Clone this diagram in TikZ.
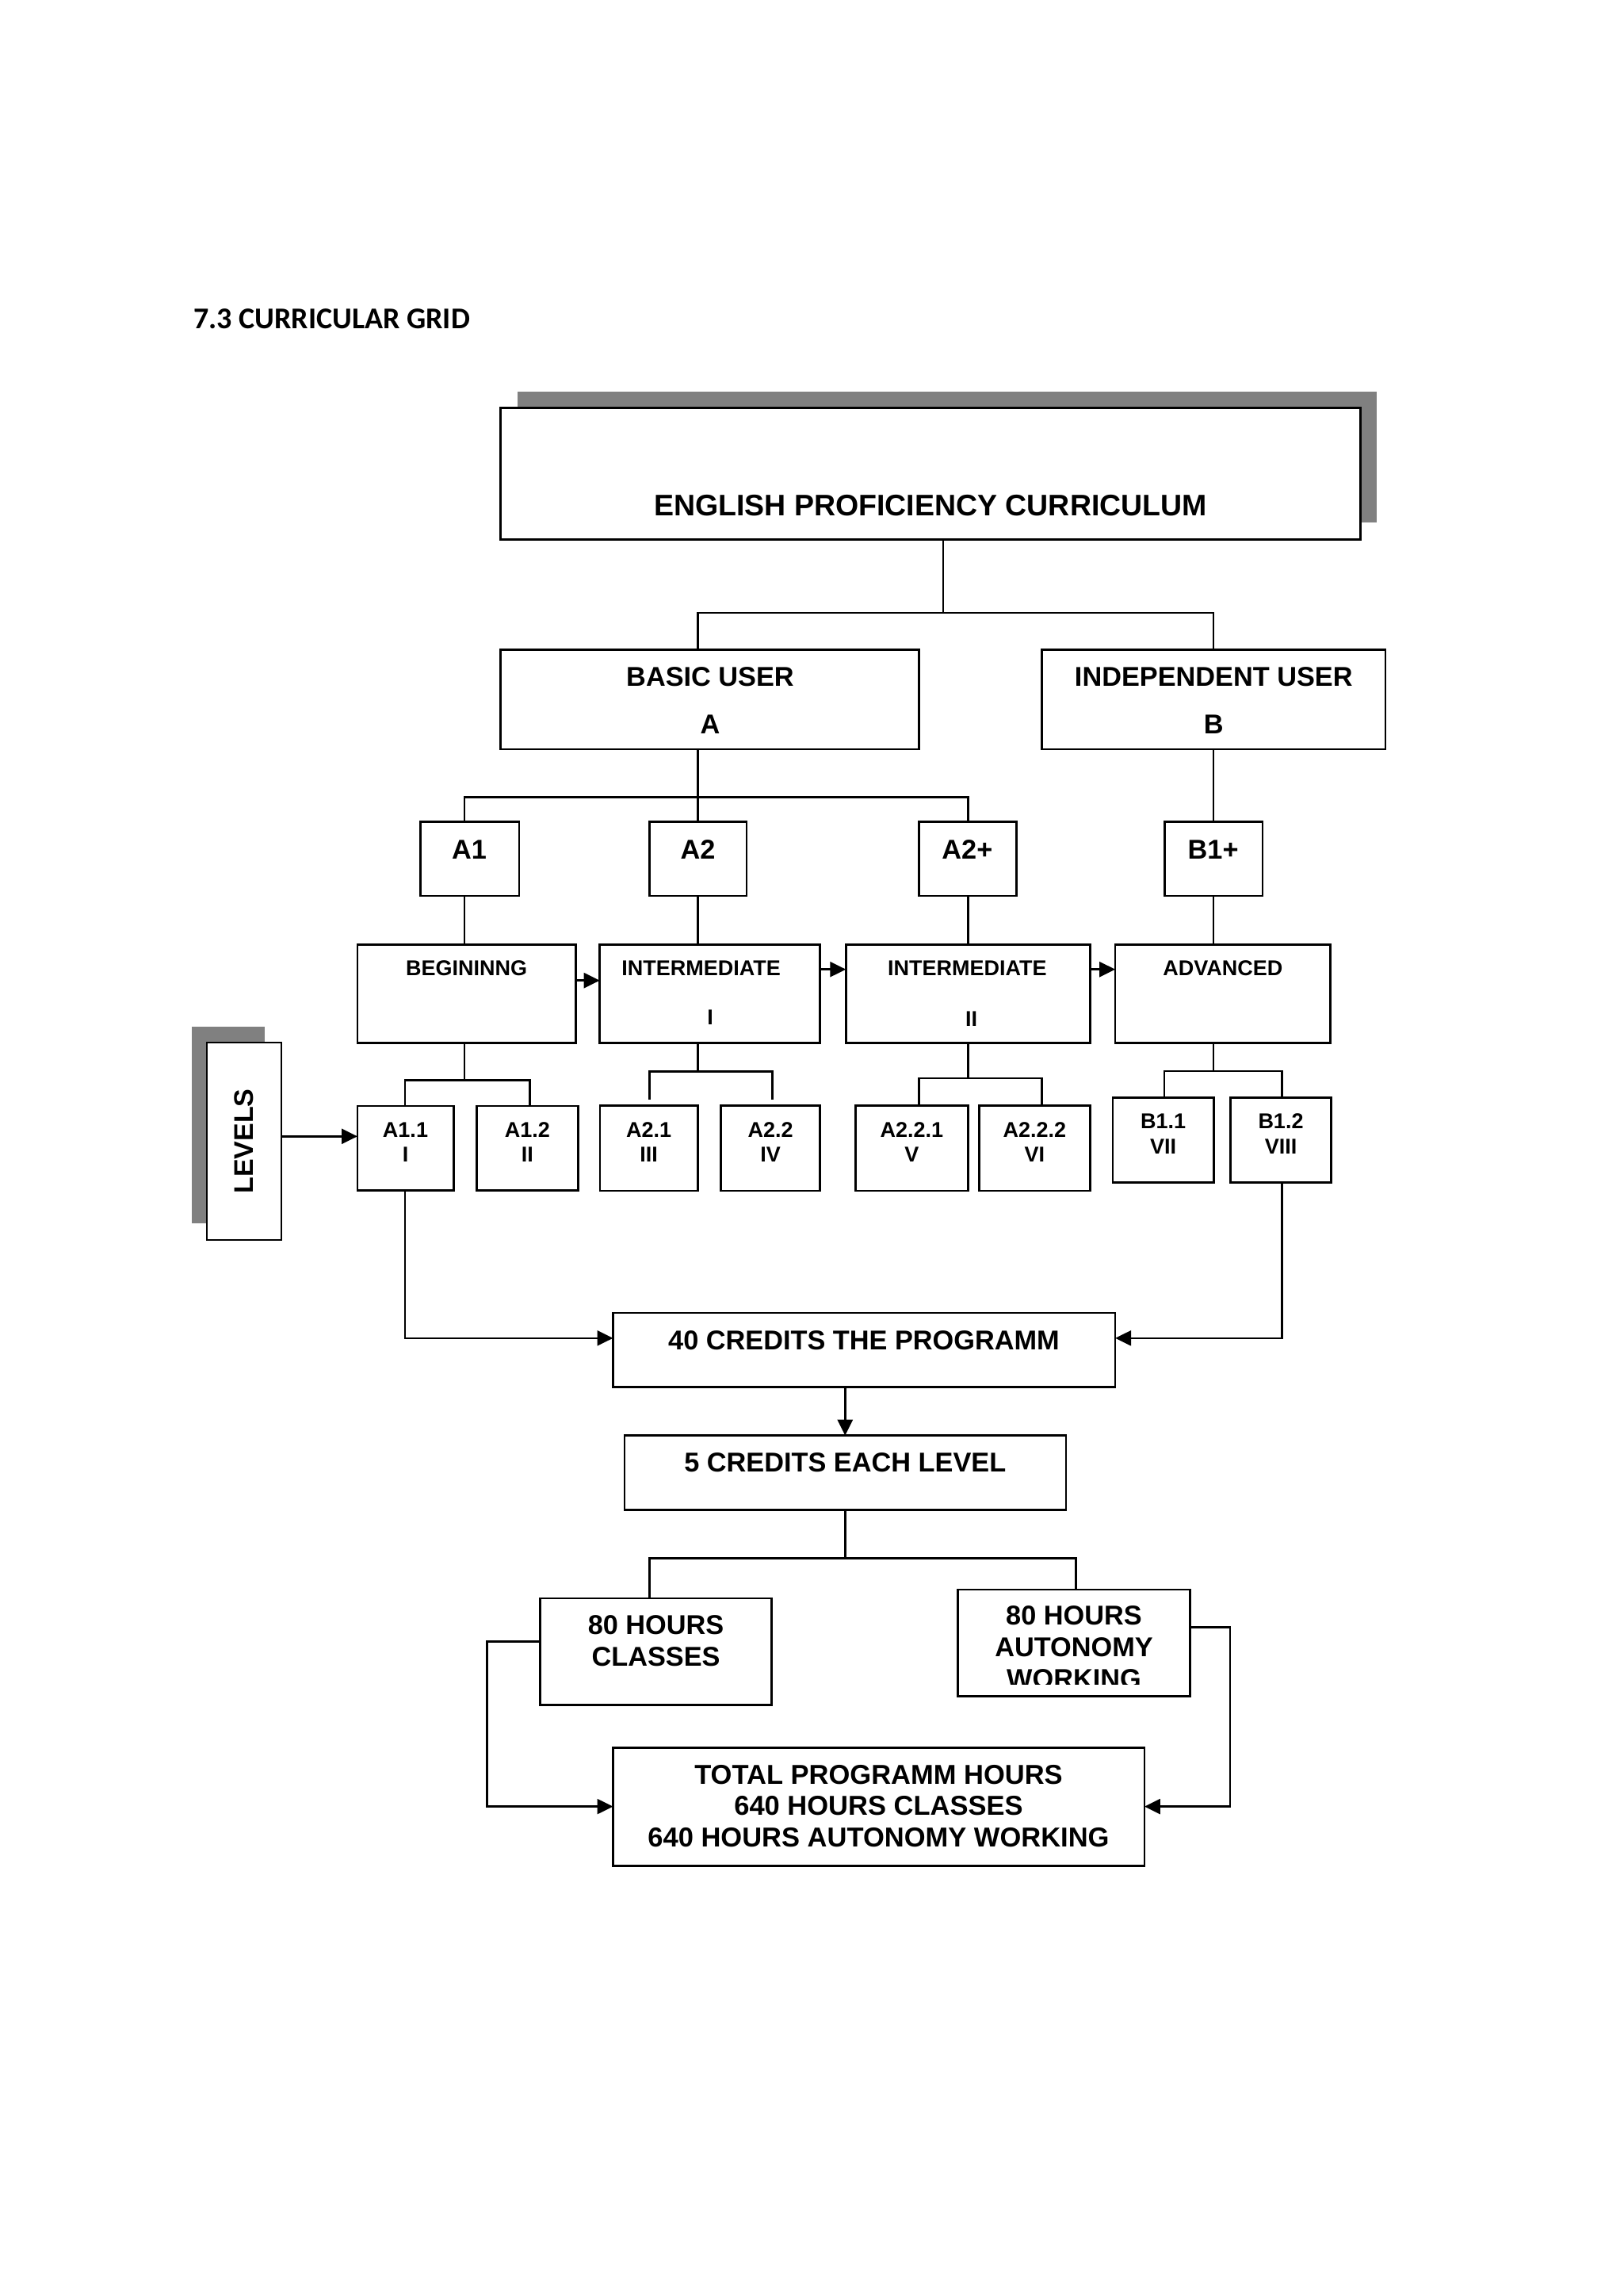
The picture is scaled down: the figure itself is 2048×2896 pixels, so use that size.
\documentclass[tikz,border=0pt]{standalone}
\usepackage{fontspec}
\setmainfont{Liberation Sans}
\newfontfamily\titlefont{Carlito}
\usetikzlibrary{arrows.meta}
\definecolor{shade}{HTML}{808080}
\tikzset{
  box/.style={draw=black, line width=2.6pt, fill=white, inner sep=0pt, outer sep=0pt},
  shadowbox/.style={fill=shade, draw=none, inner sep=0pt, outer sep=0pt},
  txt/.style={anchor=base, inner sep=0pt, outer sep=0pt, text=black},
  conn/.style={line width=2.6pt, line cap=rect},
  arr/.style={line width=2.6pt, -{Triangle[length=20pt,width=19pt]}},
}
\newcommand\bx[6][box]{\node[#1, anchor=north west, minimum width={(#5)-(#3)}, minimum height={(#6)-(#4)}] (#2) at (#3,#4) {};}
\newcommand\tx[5]{\node[txt, font=\fontsize{#4pt}{#4pt}\selectfont\bfseries] (#1) at (#2,#3) {#5};}
\begin{document}
\begin{tikzpicture}[x=1pt,y=-1pt]
\fill[white] (0,0) rectangle (2048,2896);
\useasboundingbox (0,0) rectangle (2048,2896);

% title
\node[anchor=base west, inner sep=0pt, font=\titlefont\bfseries\fontsize{38pt}{38pt}\selectfont] (title) at (244,414.3) {7.3 CURRICULAR GRID};

% shadows
\bx[shadowbox]{mainS}{653.3}{493.9}{1737.3}{658.9}
\bx[shadowbox]{levS}{241.7}{1295}{334}{1542.7}

% boxes
\bx{main}{631.5}{514.6}{1716.7}{680.4}
\bx{basic}{631.5}{819.7}{1159.5}{945}
\bx{indep}{1314.5}{819.7}{1748.1}{945}
\bx{a1}{530.7}{1036.7}{655}{1130}
\bx{a2}{819.4}{1036.7}{941.8}{1130}
\bx{a2p}{1159.2}{1036.7}{1282.7}{1130}
\bx{b1p}{1469.4}{1036.7}{1592.9}{1130}
\bx{beg}{451}{1191.5}{726.5}{1315.7}
\bx{int1}{756.7}{1191.5}{1034.7}{1315.7}
\bx{int2}{1067.3}{1191.5}{1375.5}{1315.7}
\bx{adv}{1407.1}{1191.5}{1678.6}{1315.7}
\bx{a11}{451}{1395}{572.7}{1501.7}
\bx{a12}{601.7}{1395}{729.3}{1501.7}
\bx{a21}{757.1}{1394.2}{880.6}{1502.1}
\bx{a22}{909.2}{1394.2}{1034.7}{1502.1}
\bx{a221}{1079.6}{1394.2}{1221.4}{1502.1}
\bx{a222}{1235.7}{1394.2}{1375.5}{1502.1}
\bx{b11}{1404}{1384.3}{1531.3}{1491.7}
\bx{b12}{1552.3}{1384.3}{1679.3}{1491.7}
\bx{lev}{261}{1315}{355}{1564}
\bx{cred40}{773.5}{1656.1}{1407.1}{1749.5}
\bx{cred5}{787.8}{1810.7}{1344.9}{1904.6}
\bx{cls}{681.6}{2015.8}{973.5}{2150.5}
\bx{aut}{1208.3}{2005}{1501.7}{2139.3}
\bx{tot}{773.5}{2204.6}{1443.9}{2353.6}

% texts
\tx{mainT}{1174}{650.6}{37.5}{ENGLISH PROFICIENCY CURRICULUM}
\tx{basicT}{896}{865.8}{34.3}{BASIC USER}
\tx{basicA}{896}{925.9}{34.3}{A}
\tx{indepT}{1531.3}{865.8}{34.3}{INDEPENDENT USER}
\tx{indepB}{1531.3}{925.9}{34.3}{B}
\tx{a1T}{592}{1083.3}{34.3}{A1}
\tx{a2T}{880.6}{1083.3}{34.3}{A2}
\tx{a2pT}{1220.4}{1083.3}{34.3}{A2+}
\tx{b1pT}{1530.6}{1083.3}{34.3}{B1+}
\tx{begT}{588.7}{1230.7}{27}{BEGININNG}
\tx{int1T}{884.7}{1230.7}{27}{INTERMEDIATE}
\tx{int1R}{896}{1292.8}{27}{I}
\tx{int2T}{1220.4}{1230.7}{27}{INTERMEDIATE}
\tx{int2R}{1225.5}{1294}{27}{II}
\tx{advT}{1542.9}{1230.7}{27}{ADVANCED}
\tx{a11T}{511.5}{1434}{27}{A1.1}
\tx{a11R}{511.5}{1465.7}{27}{I}
\tx{a12T}{665.4}{1434}{27}{A1.2}
\tx{a12R}{665.4}{1465.7}{27}{II}
\tx{a21T}{818.6}{1434.4}{27}{A2.1}
\tx{a21R}{818.6}{1465}{27}{III}
\tx{a22T}{972.2}{1434.4}{27}{A2.2}
\tx{a22R}{972.2}{1465}{27}{IV}
\tx{a221T}{1150.3}{1434.4}{27}{A2.2.1}
\tx{a221R}{1150.3}{1465}{27}{V}
\tx{a222T}{1305.4}{1434.4}{27}{A2.2.2}
\tx{a222R}{1305.4}{1465}{27}{VI}
\tx{b11T}{1467.7}{1423.3}{27}{B1.1}
\tx{b11R}{1467.7}{1455}{27}{VII}
\tx{b12T}{1616}{1423.3}{27}{B1.2}
\tx{b12R}{1616}{1455}{27}{VIII}
\node[inner sep=0pt, rotate=90, font=\fontsize{34pt}{34pt}\selectfont\bfseries] (levT) at (308,1439.5) {LEVELS};
\tx{cred40T}{1090}{1702}{34.3}{40 CREDITS THE PROGRAMM}
\tx{cred5T}{1066.3}{1856.6}{34.3}{5 CREDITS EACH LEVEL}
\tx{clsT1}{827.6}{2061.7}{34.3}{80 HOURS}
\tx{clsT2}{827.6}{2101.5}{34.3}{CLASSES}
\tx{autT1}{1355}{2049.3}{34.3}{80 HOURS}
\tx{autT2}{1355}{2089.3}{34.3}{AUTONOMY}
\begin{scope}
\clip (1210,2005) rectangle (1500,2124.7);
\tx{autT3}{1355}{2129.3}{34.3}{WORKING}
\end{scope}
\tx{totT1}{1108.5}{2250.5}{34.5}{TOTAL PROGRAMM HOURS}
\tx{totT2}{1108.5}{2289.8}{34.5}{640 HOURS CLASSES}
\tx{totT3}{1108.5}{2329.6}{34.5}{640 HOURS AUTONOMY WORKING}

% helper coordinates
\coordinate (xm) at (1189.8,0);
\coordinate (xb) at (880.7,0);
\coordinate (xi) at (1531,0);
\coordinate (xa1) at (586,0);
\coordinate (xa2p) at (1221.4,0);
\coordinate (bus0) at (1189.8,772.9);
\coordinate (bus1) at (880.7,1005.7);

% top tree
\draw[conn] (main.south -| xm) -- (bus0);
\draw[conn] (basic.north -| xb) |- (bus0) -| (indep.north -| xi);
\draw[conn] (basic.south -| xb) -- (a2.north -| xb);
\draw[conn] (a1.north -| xa1) |- (bus1) -| (a2p.north -| xa2p);
\draw[conn] (indep.south -| xi) -- (b1p.north -| xi);
\draw[conn] (a1.south -| xa1) -- (beg.north -| xa1);
\draw[conn] (a2.south -| xb) -- (int1.north -| xb);
\draw[conn] (a2p.south -| xa2p) -- (int2.north -| xa2p);
\draw[conn] (b1p.south -| xi) -- (adv.north -| xi);

% level arrows
\coordinate (ya1) at (0,1236.7);
\coordinate (ya2) at (0,1222.7);
\draw[arr] (beg.east |- ya1) -- (int1.west |- ya1);
\draw[arr] (int1.east |- ya2) -- (int2.west |- ya2);
\draw[arr] (int2.east |- ya2) -- (adv.west |- ya2);

% sublevel brackets
\coordinate (bb1) at (586,1362.3);
\coordinate (x11) at (511,0);
\coordinate (x12) at (668.3,0);
\draw[conn] (beg.south -| xa1) -- (bb1);
\draw[conn] (a11.north -| x11) |- (bb1) -| (a12.north -| x12);

\coordinate (bb2) at (880.7,1351.3);
\coordinate (g21) at (819.4,1385.8);
\coordinate (g22) at (974.5,1385.8);
\draw[conn] (int1.south -| xb) -- (bb2);
\draw[conn] (g21) |- (bb2) -| (g22);

\coordinate (bb3) at (1221.4,1360.1);
\coordinate (x221) at (1159.2,0);
\coordinate (x222) at (1314.3,0);
\draw[conn] (int2.south -| xa2p) -- (bb3);
\draw[conn] (a221.north -| x221) |- (bb3) -| (a222.north -| x222);

\coordinate (bb4) at (1531,1351);
\coordinate (xb11) at (1469,0);
\coordinate (xb12) at (1617.3,0);
\draw[conn] (adv.south -| xi) -- (bb4);
\draw[conn] (b11.north -| xb11) |- (bb4) -| (b12.north -| xb12);

% LEVELS arrow
\coordinate (ylev) at (0,1433.3);
\draw[arr] (lev.east |- ylev) -- (a11.west |- ylev);

% to 40 credits
\coordinate (y40) at (0,1687.8);
\draw[arr] (a11.south -| x11) |- (cred40.west |- y40);
\draw[arr] (b12.south -| xb12) |- (cred40.east |- y40);
\coordinate (x5) at (1066.3,0);
\draw[arr] (cred40.south -| x5) -- (cred5.north -| x5);

% hours
\coordinate (bus5) at (1066.3,1965.5);
\coordinate (xc) at (819.4,0);
\coordinate (xau) at (1357.2,0);
\draw[conn] (cred5.south -| x5) -- (bus5);
\draw[conn] (cls.north -| xc) |- (bus5) -| (aut.north -| xau);

% loops to total
\coordinate (yc) at (0,2070.4);
\coordinate (lc) at (614.3,2278.6);
\draw[arr] (cls.west |- yc) -| (lc) -- (tot.west |- lc);
\coordinate (yau) at (0,2052.7);
\coordinate (rc) at (1552,2278.6);
\draw[arr] (aut.east |- yau) -| (rc) -- (tot.east |- rc);
\end{tikzpicture}
\end{document}
